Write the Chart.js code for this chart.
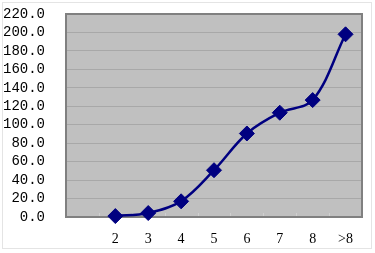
<!DOCTYPE html>
<html><head><meta charset="utf-8">
<script src="https://cdn.jsdelivr.net/npm/chart.js@4"></script>
<style>
html,body{margin:0;padding:0;background:#fff;}
#wrap{position:absolute;left:0;top:0;width:375px;height:253px;}
#frame{position:absolute;left:2px;top:2px;width:370px;height:247px;border:1px solid #e4e4e4;box-sizing:border-box;}
canvas{position:absolute;left:0;top:0;}
</style></head>
<body>
<div id="wrap"><div id="frame"></div><canvas id="c" width="375" height="253"></canvas></div>
<script>
const categories = ["", "2", "3", "4", "5", "6", "7", "8", ">8"];
const values = [null, 1, 4.3, 17, 50.7, 90.5, 113, 126.7, 198];
const yMin = 0, yMax = 220, yStep = 20;

const plotBg = {
  id: 'plotBg',
  beforeDraw(chart) {
    const {ctx, chartArea: a} = chart;
    ctx.save();
    ctx.fillStyle = '#c0c0c0';
    ctx.fillRect(a.left, a.top, a.right - a.left, a.bottom - a.top);
    ctx.restore();
  },
  beforeDatasetsDraw(chart) {
    const {ctx, chartArea: a, scales} = chart;
    const x = scales.x;
    ctx.save();
    ctx.strokeStyle = '#d0d0d0';
    ctx.lineWidth = 1;
    for (let i = 1; i < categories.length; i++) {
      const px = Math.round((x.getPixelForTick(i - 1) + x.getPixelForTick(i)) / 2) + 0.5;
      ctx.beginPath();
      ctx.moveTo(px, a.bottom - 4);
      ctx.lineTo(px, a.bottom);
      ctx.stroke();
    }
    ctx.strokeStyle = '#808080';
    ctx.lineWidth = 2;
    ctx.strokeRect(a.left, a.top, a.right - a.left, a.bottom - a.top);
    ctx.restore();
  }
};

new Chart(document.getElementById('c'), {
  type: 'line',
  data: {
    labels: categories,
    datasets: [{
      data: values,
      borderColor: '#000080',
      backgroundColor: '#000080',
      borderWidth: 2.5,
      tension: 0.35,
      pointStyle: 'rectRot',
      pointRadius: 7.5,
      pointHoverRadius: 7.5,
      pointBackgroundColor: '#000080',
      pointBorderColor: '#000080',
      pointBorderWidth: 1,
      spanGaps: true,
      clip: false
    }]
  },
  plugins: [plotBg],
  options: {
    responsive: false,
    animation: false,
    devicePixelRatio: 1,
    layout: {padding: {left: 0, right: 13, top: 14, bottom: 0}},
    plugins: {legend: {display: false}, tooltip: {enabled: false}},
    scales: {
      x: {
        offset: true,
        grid: {display: false, drawTicks: false},
        border: {display: false},
        ticks: {color: '#000', padding: 14, maxRotation: 0, autoSkip: false,
          font: {family: 'Liberation Serif', size: 14}},
        afterFit(s) { s.height = 36; s.paddingLeft = 0; s.paddingRight = 0; }
      },
      y: {
        min: yMin, max: yMax,
        grid: {color: '#a8a8a8', lineWidth: 1, drawTicks: false},
        border: {display: false},
        ticks: {stepSize: yStep, autoSkip: false, color: '#000', padding: 21,
          font: {family: 'Liberation Mono', size: 14},
          callback: v => v.toFixed(1)},
        afterFit(s) { s.width = 66; s.paddingTop = 0; s.paddingBottom = 0; }
      }
    }
  }
});
</script>
</body></html>
